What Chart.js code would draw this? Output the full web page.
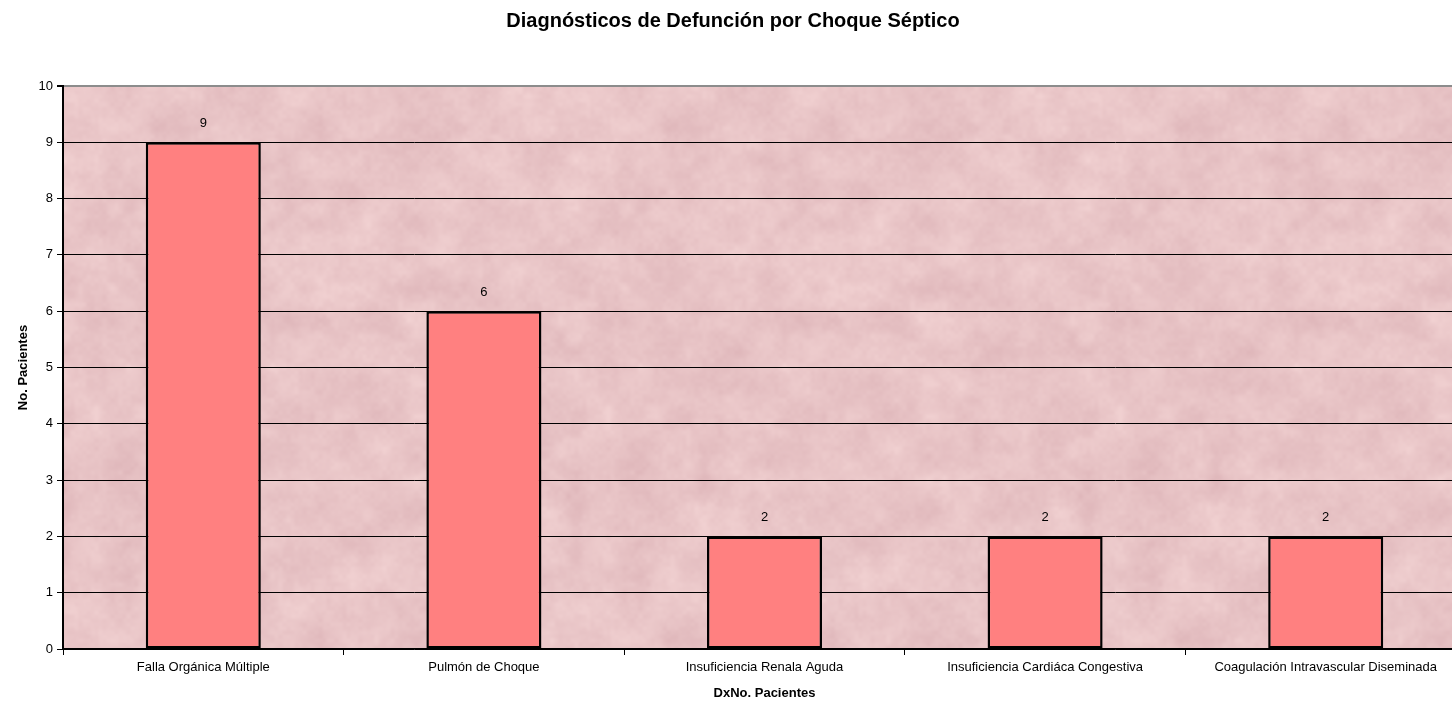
<!DOCTYPE html>
<html>
<head>
<meta charset="utf-8">
<script src="https://cdn.jsdelivr.net/npm/chart.js@4/dist/chart.umd.min.js"></script>
<style>
  html, body { margin: 0; padding: 0; overflow: hidden; background: #fff; }
  #wrap { width: 1474px; height: 705px; }
</style>
</head>
<body>
<div id="wrap"><canvas id="c" width="1474" height="705"></canvas></div>
<script>
// Diagnoses recorded as cause of death in septic shock patients
const categories = [
  'Falla Orgánica Múltiple',
  'Pulmón de Choque',
  'Insuficiencia Renala Aguda',
  'Insuficiencia Cardiáca Congestiva',
  'Coagulación Intravascular Diseminada'
];
const patients = [9, 6, 2, 2, 2];
const yTicks = [0, 1, 2, 3, 4, 5, 6, 7, 8, 9, 10];

const chartTitle = 'Diagnósticos de Defunción por Choque Séptico';
const xTitle = 'DxNo. Pacientes';
const yTitle = 'No. Pacientes';

const FONT = 'Arial, "Liberation Sans", sans-serif';

// Pink granite-like fill for the plot area (deterministic value noise)
function makeTexture() {
  const S = 512;
  const cv = document.createElement('canvas');
  cv.width = S; cv.height = S;
  const ctx = cv.getContext('2d');
  const img = ctx.createImageData(S, S);
  function hash(x, y, s) {
    let h = Math.imul(x, 374761393) ^ Math.imul(y, 668265263) ^ Math.imul(s, 2246822519);
    h = Math.imul(h ^ (h >>> 13), 1274126177);
    h ^= h >>> 16;
    return (h >>> 0) / 4294967295;
  }
  function smooth(t) { return t * t * (3 - 2 * t); }
  function vnoise(x, y, cell, seed) {
    const n = S / cell;
    const gx = x / cell, gy = y / cell;
    const x0 = Math.floor(gx), y0 = Math.floor(gy);
    const fx = smooth(gx - x0), fy = smooth(gy - y0);
    const a = hash(x0 % n, y0 % n, seed), b = hash((x0 + 1) % n, y0 % n, seed);
    const c = hash(x0 % n, (y0 + 1) % n, seed), d = hash((x0 + 1) % n, (y0 + 1) % n, seed);
    const top = a + (b - a) * fx, bot = c + (d - c) * fx;
    return top + (bot - top) * fy;
  }
  for (let y = 0; y < S; y++) {
    for (let x = 0; x < S; x++) {
      let v = 0.35 * vnoise(x, y, 32, 1) + 0.3 * vnoise(x, y, 16, 2) +
              0.2 * vnoise(x, y, 8, 3) + 0.15 * vnoise(x, y, 4, 4);
      v = (v - 0.5) * 2;
      const i = (y * S + x) * 4;
      img.data[i]     = 232 + v * 11;
      img.data[i + 1] = 196 + v * 16;
      img.data[i + 2] = 198 + v * 14;
      img.data[i + 3] = 255;
    }
  }
  ctx.putImageData(img, 0, 0);
  return cv;
}

const plotBackground = {
  id: 'plotBackground',
  beforeDraw(chart) {
    const { ctx, chartArea: a } = chart;
    ctx.save();
    ctx.fillStyle = ctx.createPattern(makeTexture(), 'repeat');
    ctx.fillRect(a.left, a.top, a.right - a.left, a.bottom - a.top);
    ctx.restore();
  }
};

// Value printed above each bar
const valueLabels = {
  id: 'valueLabels',
  afterDatasetsDraw(chart) {
    const { ctx } = chart;
    const meta = chart.getDatasetMeta(0);
    ctx.save();
    ctx.font = '13px ' + FONT;
    ctx.fillStyle = '#000';
    ctx.textAlign = 'center';
    ctx.textBaseline = 'middle';
    meta.data.forEach((bar, i) => {
      ctx.fillText(String(patients[i]), bar.x, bar.y - 19);
    });
    ctx.restore();
  }
};

new Chart(document.getElementById('c'), {
  type: 'bar',
  data: {
    labels: categories,
    datasets: [{
      data: patients,
      backgroundColor: '#FF8080',
      borderColor: '#000',
      borderWidth: 2.5,
      borderSkipped: false,
      barPercentage: 0.41,
      categoryPercentage: 1
    }]
  },
  options: {
    responsive: false,
    animation: false,
    layout: { padding: { left: 0, right: 8, top: 0, bottom: 0 } },
    plugins: {
      legend: { display: false },
      tooltip: { enabled: false },
      title: {
        display: true,
        text: chartTitle,
        color: '#000',
        font: { family: FONT, size: 20, weight: 'bold' },
        padding: { top: 9, bottom: 53 }
      }
    },
    scales: {
      x: {
        grid: {
          display: true,
          drawOnChartArea: false,
          drawTicks: true,
          tickLength: 6,
          tickColor: '#000',
          offset: true
        },
        border: { display: true, color: '#000', width: 1.5 },
        ticks: {
          color: '#000',
          font: { family: FONT, size: 13 },
          padding: 5,
          maxRotation: 0,
          autoSkip: false
        },
        title: {
          display: true,
          text: xTitle,
          color: '#000',
          font: { family: FONT, size: 13, weight: 'bold' },
          padding: { top: 0, bottom: 4 }
        },
        afterFit(scale) { scale.height = 56; }
      },
      y: {
        min: 0,
        max: 10,
        afterBuildTicks(scale) { scale.ticks = yTicks.map(v => ({ value: v })); },
        grid: {
          color: ctx => ctx.tick && ctx.tick.value === 10 ? '#8c8c8c' : '#000',
          lineWidth: ctx => ctx.tick && ctx.tick.value === 10 ? 2 : 1,
          tickLength: 6,
          tickColor: '#000'
        },
        border: { display: true, color: '#000', width: 2 },
        ticks: {
          color: '#000',
          font: { family: FONT, size: 13 },
          padding: 4
        },
        title: {
          display: true,
          text: yTitle,
          color: '#000',
          font: { family: FONT, size: 13, weight: 'bold' },
          padding: { top: 16, bottom: 0 }
        },
        afterFit(scale) { scale.width = 63; }
      }
    }
  },
  plugins: [plotBackground, valueLabels]
});
</script>
</body>
</html>
